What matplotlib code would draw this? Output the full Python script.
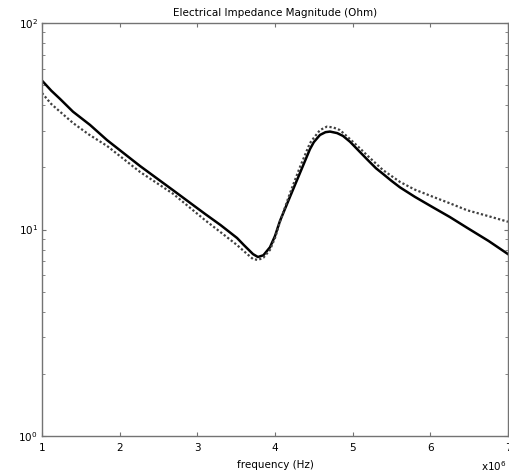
import numpy as np
import matplotlib
matplotlib.use("Agg")
import matplotlib.pyplot as plt
from matplotlib.ticker import LogLocator, FixedLocator

# frequency in units of 1e6 Hz, impedance magnitude in Ohm
freq_solid = [1.000, 1.120, 1.232, 1.399, 1.618, 1.837, 2.262, 2.687, 3.099, 3.300,
              3.511, 3.600, 3.717, 3.780, 3.850, 3.935, 4.000, 4.064, 4.193, 4.322,
              4.450, 4.500, 4.579, 4.650, 4.708, 4.800, 4.875, 4.966, 5.100, 5.184,
              5.300, 5.390, 5.500, 5.609, 5.800, 6.034, 6.250, 6.472, 6.750, 7.000]
z_solid = [52.6, 47.0, 42.9, 37.2, 32.1, 27.1, 20.3, 15.5, 11.9, 10.5,
           9.10, 8.40, 7.60, 7.36, 7.50, 8.20, 9.30, 11.0, 14.4, 18.8,
           24.5, 26.5, 28.7, 29.6, 29.8, 29.3, 28.4, 26.6, 23.6, 21.9,
           19.8, 18.6, 17.2, 16.0, 14.4, 12.8, 11.5, 10.2, 8.80, 7.60]

freq_dot = [1.000, 1.120, 1.232, 1.399, 1.600, 1.837, 2.262, 2.687, 3.099, 3.300,
            3.511, 3.600, 3.717, 3.781, 3.850, 3.935, 4.000, 4.064, 4.193, 4.322,
            4.450, 4.500, 4.579, 4.669, 4.750, 4.837, 4.966, 5.100, 5.184, 5.390,
            5.609, 5.800, 6.034, 6.250, 6.472, 6.750, 7.000]
z_dot = [45.8, 40.5, 37.2, 32.8, 28.9, 25.4, 19.0, 14.9, 11.1, 9.70,
         8.41, 7.85, 7.19, 7.12, 7.30, 7.96, 9.10, 10.9, 15.0, 20.1,
         26.2, 27.8, 30.3, 31.5, 31.2, 30.3, 27.4, 24.6, 22.9, 19.4,
         17.0, 15.6, 14.4, 13.4, 12.4, 11.6, 10.9]

fig = plt.figure(figsize=(5.10, 4.74), dpi=100)
ax = fig.add_axes([42/510, 38/474, 466/510, 413/474])

ax.plot(freq_solid, z_solid, color="black", lw=1.8, solid_joinstyle="round")
ax.plot(freq_dot, z_dot, color="0.25", lw=1.6, linestyle=(0, (1, 1)))

ax.set_yscale("log")
ax.set_xlim(1, 7)
ax.set_ylim(1, 100)
ax.xaxis.set_major_locator(FixedLocator([1, 2, 3, 4, 5, 6, 7]))
ax.set_xticklabels(["1", "2", "3", "4", "5", "6", "7"])
ax.yaxis.set_major_locator(LogLocator(base=10, numticks=5))
ax.yaxis.set_minor_locator(LogLocator(base=10, subs=np.arange(2, 10), numticks=10))
ax.yaxis.set_minor_formatter(plt.NullFormatter())

for s in ax.spines.values():
    s.set_color("0.45")
    s.set_linewidth(1.0)
ax.tick_params(which="both", direction="in", top=True, right=True,
               color="0.45", labelsize=7.5)
ax.tick_params(axis="x", pad=5)
ax.tick_params(axis="y", pad=3)
ax.tick_params(which="major", length=3)
ax.tick_params(which="minor", length=2)

ax.set_title("Electrical Impedance Magnitude (Ohm)", fontsize=7.5, pad=5)
ax.set_xlabel("frequency (Hz)", fontsize=7.5, labelpad=5)
fig.text(494/510, 1 - 466/474, "x10$^6$", fontsize=7.5, ha="center", va="center")

fig.savefig("out.png", dpi=100)
